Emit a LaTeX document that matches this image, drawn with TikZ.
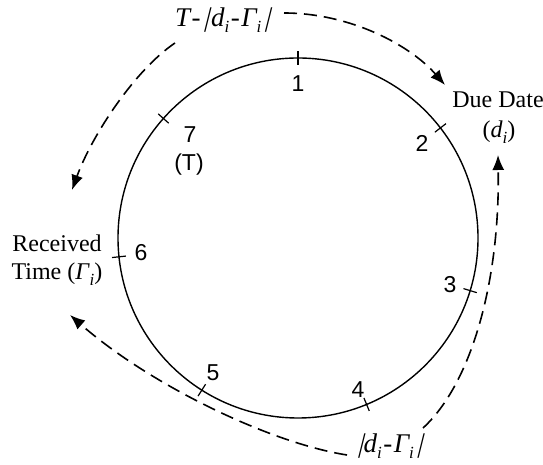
\documentclass[tikz,border=0pt]{standalone}
\usepackage{fontspec}
\setmainfont{Liberation Serif}
\newfontfamily\arialf{Liberation Sans}
\newfontfamily\slbarf[FakeSlant=0.25]{Liberation Serif}
\usetikzlibrary{arrows.meta,calc}
\newcommand\mysub[1]{\raisebox{-0.22em}{\fontsize{17}{17}\selectfont\itshape #1}}
\newcommand\sbar{{\slbarf|}}
\newcommand\gp{\hspace{1.5pt}}
\begin{document}
\begin{tikzpicture}[x=1pt,y=1pt,
  ring/.style={draw,line width=1.4pt},
  tickmark/.style={line width=1.2pt},
  num/.style={inner sep=0pt,font=\arialf\fontsize{23}{26}\selectfont},
  lbl/.style={inner sep=0pt,font=\fontsize{24}{28}\selectfont},
  mlbl/.style={inner sep=0pt,font=\fontsize{27}{30}\selectfont\itshape},
  darrow/.style={line width=1.6pt,dash pattern=on 13pt off 7pt,-{Latex[length=15pt,width=12pt]}}]
\useasboundingbox (0,0) rectangle (543,465);
\coordinate (c) at (298,227);
\draw[ring] (c) circle (180);
\foreach \a in {90,37.7,-17,-67.6,-122.3,186,138.4}{
  \draw[tickmark] ($(c)+(\a:173)$) -- ($(c)+(\a:187)$);
}
\node[num] (n1) at (298,381) {1};
\node[num] (n2) at (422,322) {2};
\node[num] (n3) at (450,180) {3};
\node[num] (n4) at (358,75) {4};
\node[num] (n5) at (213,92) {5};
\node[num] (n6) at (141,212) {6};
\node[num] (n7) at (190,330) {7};
\node[num] (nT) at (189,300) {(T)};
\node[lbl,anchor=base] (due) at (498,357) {Due Date};
\node[lbl,anchor=base] (di) at (499,327) {(\textit{d}\mysub{i})};
\node[lbl,anchor=base] (rec) at (57,213) {Received};
\node[lbl,anchor=base] (time) at (57,185) {Time (\textit{Γ}\mysub{i})};
\node[mlbl,anchor=base west] (top) at (175,438) {T\gp-\gp\sbar\gp d\mysub{i}\gp-\gp Γ\mysub{i}\gp\sbar};
\node[mlbl,anchor=base west] (bot) at (356,12) {\sbar d\mysub{i}\gp-\gp Γ\mysub{i}\gp\sbar};
\coordinate (aS) at (284,452);
\coordinate (aE) at (445,380);
\coordinate (bS) at (175,422);
\coordinate (bE) at (72,275);
\coordinate (cS) at (423,37);
\coordinate (cE) at (498,310);
\coordinate (dS) at (347,10);
\coordinate (dE) at (70,150);
\draw[darrow] (aS) .. controls (350,452) and (410,420) .. (aE);
\draw[darrow] (bS) .. controls (135,395) and (92,330) .. (bE);
\draw[darrow] (cS) .. controls (470,80) and (500,180) .. (cE);
\draw[darrow] (dS) .. controls (270,22) and (150,80) .. (dE);
\end{tikzpicture}
\end{document}
